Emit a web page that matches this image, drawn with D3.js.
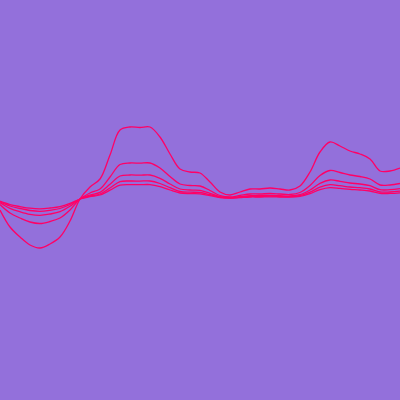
<!DOCTYPE html>
<html><head><meta charset="utf-8">
<script src="https://cdn.jsdelivr.net/npm/d3@7"></script>
<style>html,body{margin:0;padding:0;background:#9370db;}svg{display:block;}</style>
</head><body>
<script>
const xs = [0,10,20,30,40,50,60,70,80,90,100,110,120,130,140,150,160,170,180,190,200,210,220,230,240,250,260,270,280,290,300,310,320,330,340,350,360,370,380,390,400];
const s1 = [-11,-28,-38,-46,-49,-45,-38,-22,0,12,20,44,69,72,71.5,72,62,45,30,27,26,17,7,4,7,10,10,11,10,9,13,27,47,57,53,48,45,40,28,28,31];
const s2 = [-5.5,-14,-19,-23,-24.5,-22.5,-19,-11,0,6,10,22,34.5,36,35.8,36,31,22.5,15,13.5,13,8.5,3.5,2,3.5,5,5,5.5,5,4.5,6.5,13.5,23.5,28.5,26.5,24,22.5,20,14,14,15.5];
const s3 = [-3.7,-9.3,-12.7,-15.3,-16.3,-15,-12.7,-7.3,0,4,6.7,14.7,23,24,23.8,24,20.7,15,10,9,8.7,5.7,2.3,1.3,2.3,3.3,3.3,3.7,3.3,3,4.3,9,15.7,19,17.7,16,15,13.3,9.3,9.3,10.3];
const s4 = [-2.8,-7,-9.5,-11.5,-12.3,-11.3,-9.5,-5.5,0,3,5,11,17.3,18,17.9,18,15.5,11.3,7.5,6.8,6.5,4.3,1.8,1,1.8,2.5,2.5,2.8,2.5,2.3,3.3,6.8,11.8,14.3,13.3,12,11.3,10,7,7,7.8];
const s5 = [-2.2,-5.6,-7.6,-9.2,-9.8,-9,-7.6,-4.4,0,2.4,4,8.8,13.8,14.4,14.3,14.4,12.4,9,6,5.4,5.2,3.4,1.4,0.8,1.4,2,2,2.2,2,1.8,2.6,5.4,9.4,11.4,10.6,9.6,9,8,5.6,5.6,6.2];
const seriesList = [s1,s2,s3,s4,s5];

const W = 400, H = 400;
const svg = d3.select("body").append("svg").attr("width", W).attr("height", H);
svg.append("rect").attr("width", W).attr("height", H).attr("fill", "#9370db");
const x = d3.scaleLinear().domain([0,400]).range([0,400]);
const y = d3.scaleLinear().domain([-200,200]).range([399,-1]);
const line = d3.line().x((d,i)=>x(xs[i])).y(d=>y(d)).curve(d3.curveCatmullRom);
svg.selectAll("path.l").data(seriesList).enter().append("path")
  .attr("class","l")
  .attr("d", d=>line(d))
  .attr("fill","none")
  .attr("stroke","#ff0066")
  .attr("stroke-width",1.3);
</script>
</body></html>
